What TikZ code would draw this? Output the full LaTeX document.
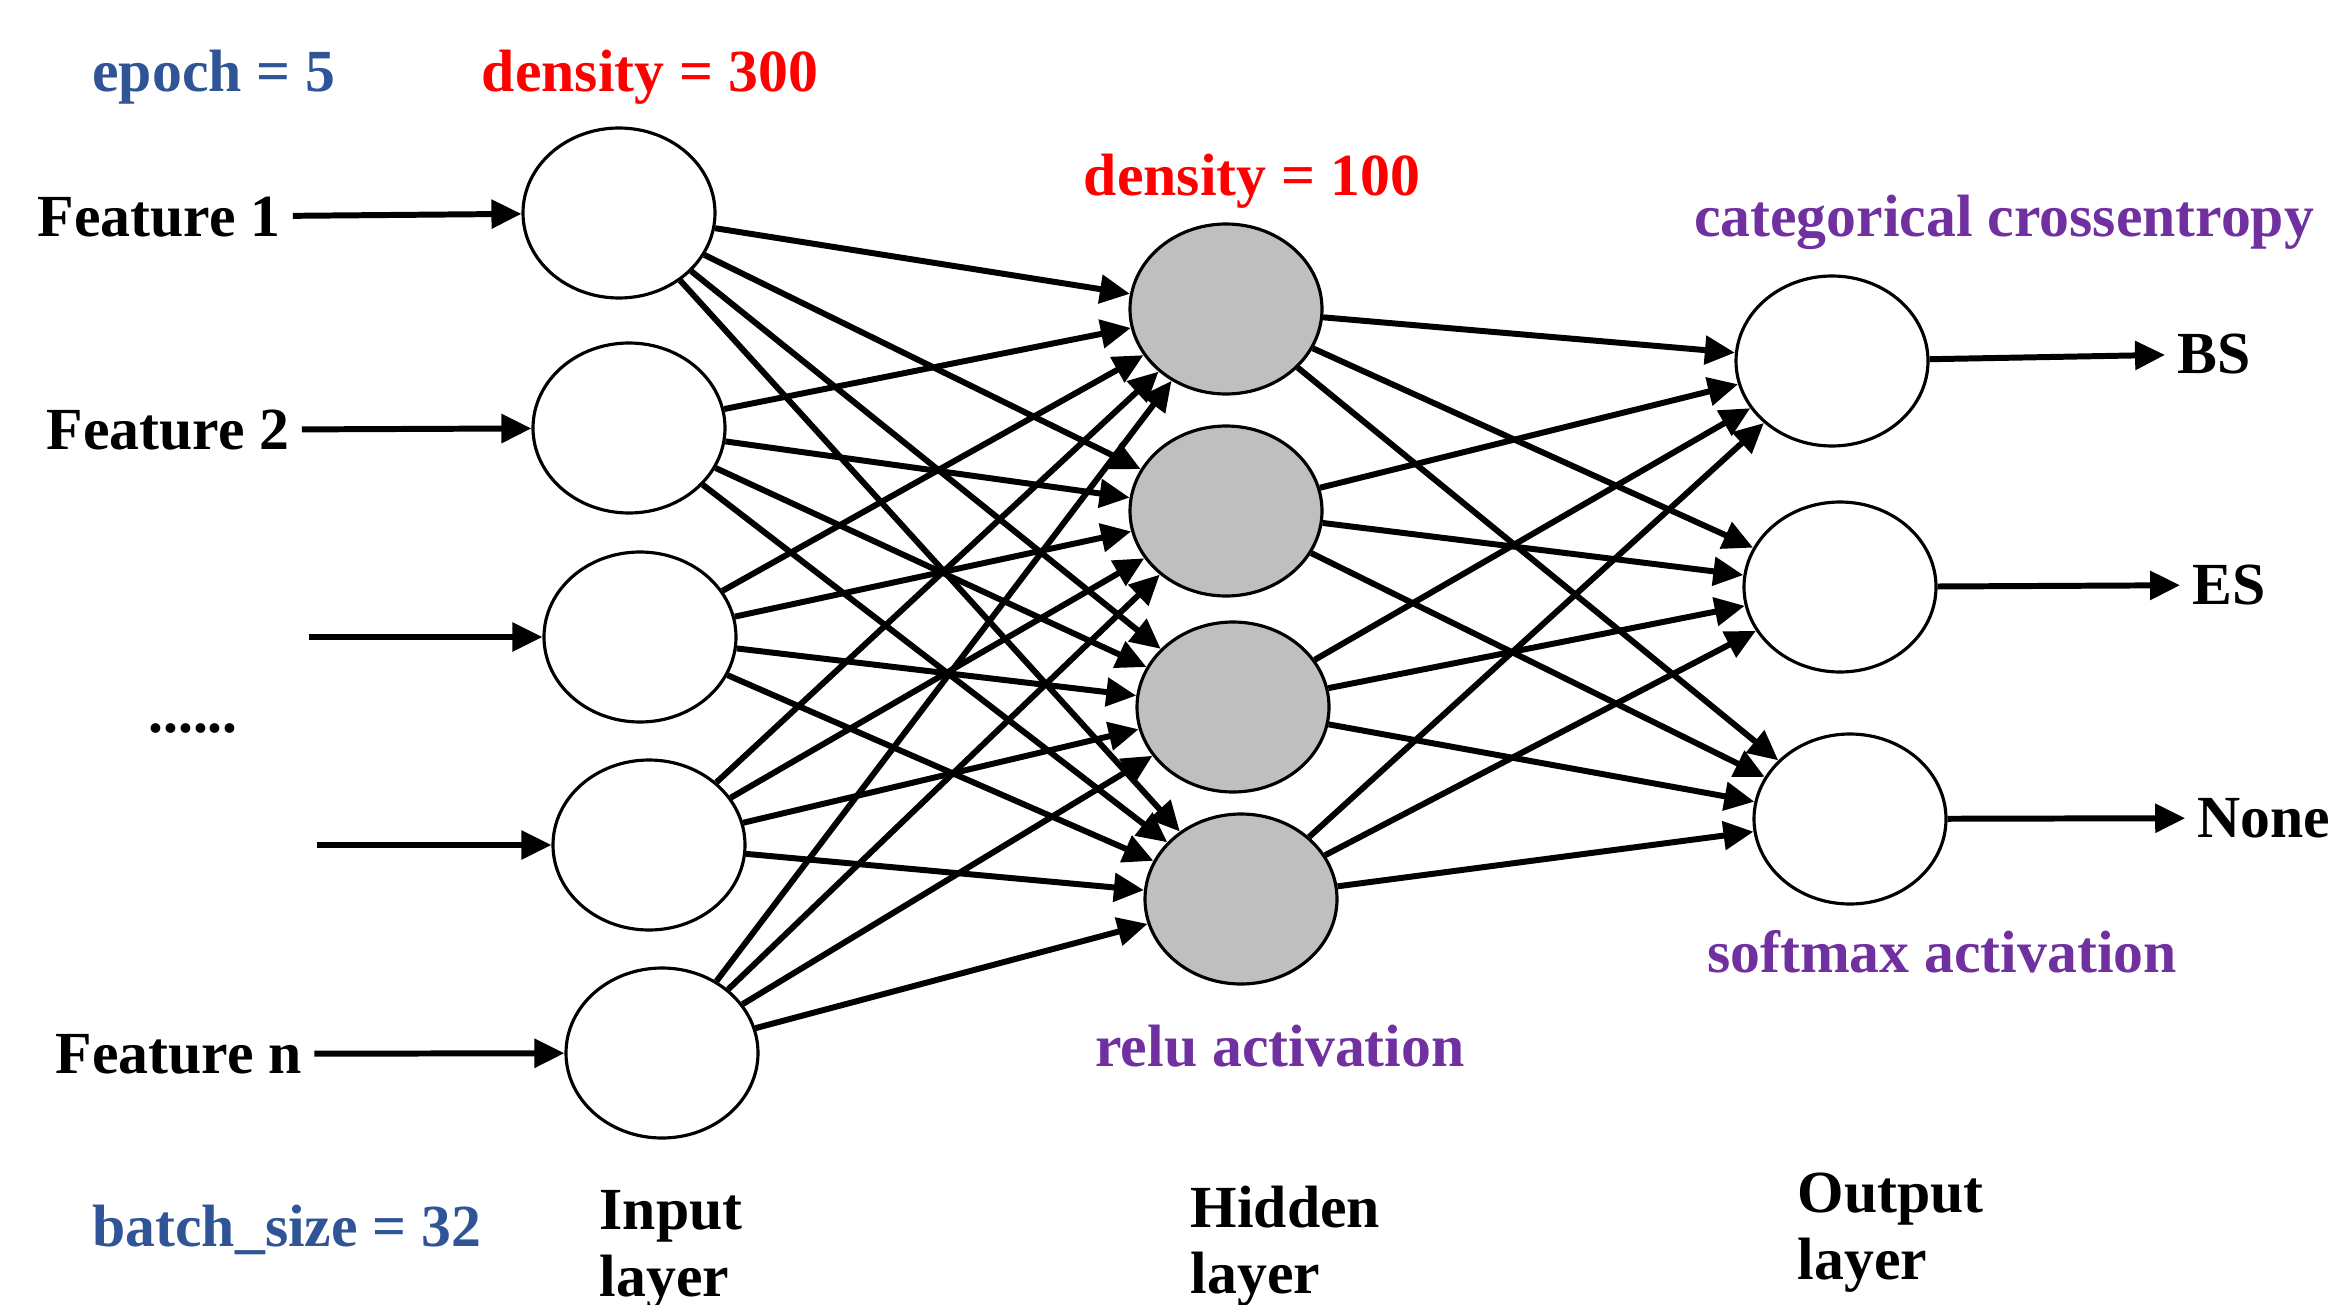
\documentclass[tikz,border=0pt]{standalone}
\usepackage{fontspec}
\setmainfont{Liberation Serif}
\usetikzlibrary{arrows.meta, shapes.geometric, positioning}
\definecolor{paramblue}{RGB}{47,85,151}
\definecolor{densred}{RGB}{255,0,0}
\definecolor{actpurple}{RGB}{112,48,160}
\definecolor{hidgray}{RGB}{191,191,191}

\tikzset{
    neuron/.style={ellipse, draw, line width=0.9pt, fill=white, minimum width=1.92cm, minimum height=1.7cm, inner sep=0pt},
    hidneuron/.style={neuron, fill=hidgray},
    lbl/.style={font=\fontsize{17}{19}\selectfont\bfseries},
    wire/.style={-{Triangle[length=3mm,width=2.8mm]}, line width=1.7pt},
}

\begin{document}
\begin{tikzpicture}
            \useasboundingbox (0,0) rectangle (23.32,-13.05);
            % neurons
            \node[neuron] (in1) at (6.19,-2.13) {};
            \node[neuron] (in2) at (6.29,-4.28) {};
            \node[neuron] (in3) at (6.40,-6.37) {};
            \node[neuron] (in4) at (6.49,-8.45) {};
            \node[neuron] (in5) at (6.62,-10.53) {};
            \node[hidneuron] (hid1) at (12.26,-3.09) {};
            \node[hidneuron] (hid2) at (12.26,-5.11) {};
            \node[hidneuron] (hid3) at (12.33,-7.07) {};
            \node[hidneuron] (hid4) at (12.41,-8.99) {};
            \node[neuron] (out1) at (18.32,-3.61) {};
            \node[neuron] (out2) at (18.40,-5.87) {};
            \node[neuron] (out3) at (18.50,-8.19) {};
            % inputs and outputs
            \node[lbl] (f1) at (1.59,-2.17) {Feature 1};
            \node[lbl] (f2) at (1.68,-4.30) {Feature 2};
            \node[lbl] (dots) at (1.93,-7.28) {......};
            \node[lbl] (fn) at (1.79,-10.54) {Feature n};
            \coordinate (c3) at (3.09,-6.37);
            \coordinate (c4) at (3.17,-8.45);
            \node[lbl] (bs) at (22.14,-3.54) {BS};
            \node[lbl] (es) at (22.29,-5.85) {ES};
            \node[lbl] (none) at (22.64,-8.18) {None};
            \draw[wire] (f1) -- (in1);
            \draw[wire] (f2) -- (in2);
            \draw[wire] (c3) -- (in3);
            \draw[wire] (c4) -- (in4);
            \draw[wire] (fn) -- (in5);
            \draw[wire] (out1) -- (bs);
            \draw[wire] (out2) -- (es);
            \draw[wire] (out3) -- (none);
            % full connections
            \foreach \i in {1,...,5}
                \foreach \h in {1,...,4}
                    \draw[wire] (in\i) -- (hid\h);
            \foreach \h in {1,...,4}
                \foreach \o in {1,...,3}
                    \draw[wire] (hid\h) -- (out\o);
            % parameters
            \node[lbl, text=paramblue] (epoch) at (2.14,-0.77) {epoch = 5};
            \node[lbl, text=paramblue] (batch) at (2.87,-12.30) {batch\_size = 32};
            \node[lbl, text=densred] (dens300) at (6.50,-0.77) {density = 300};
            \node[lbl, text=densred] (dens100) at (12.52,-1.81) {density = 100};
            \node[lbl, text=actpurple] (loss) at (20.04,-2.22) {categorical crossentropy};
            \node[lbl, text=actpurple] (relu) at (12.80,-10.46) {relu activation};
            \node[lbl, text=actpurple] (softmax) at (19.42,-9.52) {softmax activation};
            % layer names
            \node[lbl, align=left, anchor=north west, inner sep=0pt] (inlayer) at (5.99,-11.90) {Input\\layer};
            \node[lbl, align=left, anchor=north west, inner sep=0pt] (hidlayer) at (11.90,-11.85) {Hidden\\layer};
            \node[lbl, align=left, anchor=north west, inner sep=0pt] (outlayer) at (17.97,-11.72) {Output\\layer};
        \end{tikzpicture}
\end{document}
